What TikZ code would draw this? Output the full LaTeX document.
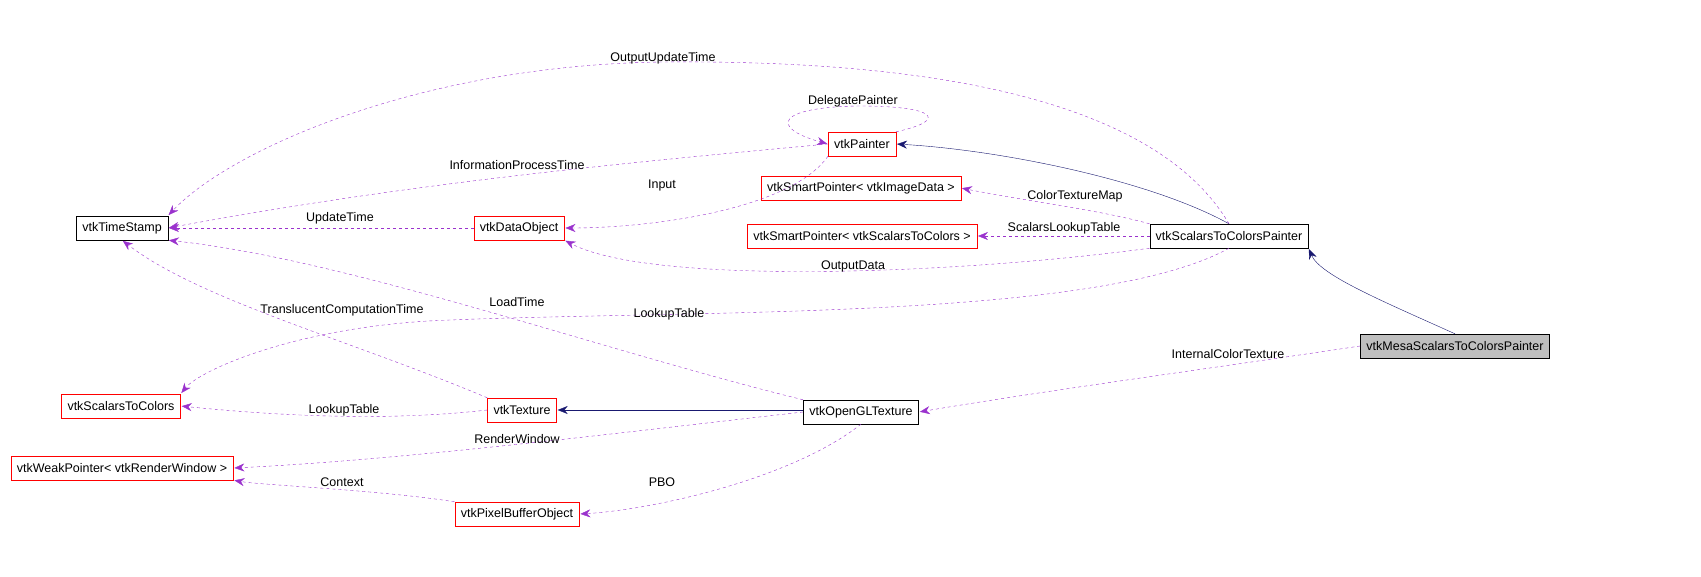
\documentclass[tikz,border=0pt]{standalone}
\usepackage{fontspec}
\setmainfont{Liberation Sans}
\usetikzlibrary{arrows.meta}
\definecolor{usecol}{HTML}{9A32CD}
\definecolor{inhcol}{HTML}{191970}
\begin{document}
\begin{tikzpicture}[x=1pt,y=-1pt,font=\fontsize{12.5}{14}\selectfont,
        cls/.style={draw=red,thin,minimum height=24pt,inner xsep=6pt},
        clsok/.style={draw=black,thin,minimum height=24pt,inner xsep=6pt},
        use/.style={draw=usecol,dashed,-{Stealth[length=10pt,width=8pt]},shorten >=1pt},
        inh/.style={draw=inhcol,-{Stealth[length=10pt,width=8pt]},shorten >=1pt},
        lbl/.style={inner sep=1pt}]
    \useasboundingbox (0,0) rectangle (1701,577);

    \node[clsok] (tstamp) at (122,228) {vtkTimeStamp};
    \node[cls] (painter) at (862,144) {vtkPainter};
    \node[cls] (dobj) at (519,228) {vtkDataObject};
    \node[cls] (spimg) at (861,188) {vtkSmartPointer< vtkImageData >};
    \node[cls] (spstc) at (862,236) {vtkSmartPointer< vtkScalarsToColors >};
    \node[clsok] (stcp) at (1229,236) {vtkScalarsToColorsPainter};
    \node[clsok,fill=black!25] (mesa) at (1455,346) {vtkMesaScalarsToColorsPainter};
    \node[cls] (stc) at (121,406) {vtkScalarsToColors};
    \node[cls] (tex) at (522,410) {vtkTexture};
    \node[clsok] (ogl) at (861,412) {vtkOpenGLTexture};
    \node[cls] (wp) at (122,468) {vtkWeakPointer< vtkRenderWindow >};
    \node[cls] (pbo) at (517,514) {vtkPixelBufferObject};

    % inheritance
    \draw[inh] (stcp.north) .. controls (1150,180) and (1000,150) .. (painter.east);
    \draw[inh] (mesa.north) .. controls (1380,300) and (1320,275) .. (stcp.south east);
    \draw[inh] (ogl.west |- tex.east) -- (tex.east);

    % usage
    \draw[use] (stcp.north) .. controls (1150,90) and (900,60) .. (663,62)
        .. controls (420,65) and (230,150) .. (tstamp.north east);
    \node[lbl] at (663,58) {OutputUpdateTime};
    \draw[use] (painter.west) .. controls (600,165) and (400,185) .. (tstamp.east);
    \node[lbl] at (517,165) {InformationProcessTime};
    \draw[use] (painter.north east) .. controls (950,120) and (935,106) .. (860,106)
        .. controls (775,107) and (770,128) .. (painter.west);
    \node[lbl] at (853,101) {DelegatePainter};
    \draw[use] (painter.south west) .. controls (790,210) and (650,228) .. (dobj.east);
    \node[lbl] at (662,185) {Input};
    \draw[use] (dobj.west) -- (tstamp.east);
    \node[lbl] at (340,218) {UpdateTime};
    \draw[use] (stcp.north west) .. controls (1100,210) and (1020,200) .. (spimg.east);
    \node[lbl] at (1075,196) {ColorTextureMap};
    \draw[use] (stcp.west) -- (spstc.east);
    \node[lbl] at (1064,228) {ScalarsLookupTable};
    \draw[use] (stcp.south west) .. controls (950,275) and (650,285) .. (dobj.south east);
    \node[lbl] at (853,266) {OutputData};
    \draw[use] (stcp.south) .. controls (1100,320) and (700,310) .. (450,320)
        .. controls (300,325) and (200,370) .. (stc.north east);
    \node[lbl] at (669,314) {LookupTable};
    \draw[use] (tex.north west) .. controls (350,340) and (200,300) .. (tstamp.south);
    \node[lbl] at (342,310) {TranslucentComputationTime};
    \draw[use] (ogl.north west) .. controls (600,350) and (350,260) .. (tstamp.south east);
    \node[lbl] at (517,302) {LoadTime};
    \draw[use] (mesa.west) .. controls (1200,370) and (1050,390) .. (ogl.east);
    \node[lbl] at (1228,354) {InternalColorTexture};
    \draw[use] (tex.west) .. controls (400,420) and (300,418) .. (stc.east);
    \node[lbl] at (344,410) {LookupTable};
    \draw[use] (ogl.west) .. controls (600,435) and (400,460) .. (wp.east);
    \node[lbl] at (517,439) {RenderWindow};
    \draw[use] (ogl.south) .. controls (790,480) and (650,510) .. (pbo.east);
    \node[lbl] at (662,482) {PBO};
    \draw[use] (pbo.north west) .. controls (380,490) and (260,485) .. (wp.south east);
    \node[lbl] at (342,482) {Context};
\end{tikzpicture}
\end{document}
